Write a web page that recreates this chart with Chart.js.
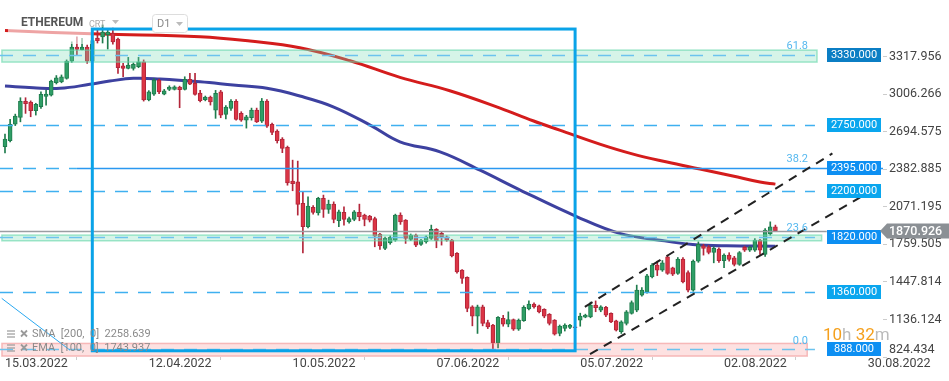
<!DOCTYPE html>
<html><head><meta charset="utf-8">
<script src="https://cdn.jsdelivr.net/npm/chart.js@4.4.0/dist/chart.umd.min.js"></script>
<style>html,body{margin:0;padding:0;background:#fff;overflow:hidden}#wrap{position:relative;width:949px;height:381px}</style>
</head><body><div id="wrap"><canvas id="c" width="949" height="381"></canvas></div>
<script>
// ---- DATA ----
const dateLabels = ['15.03.2022','12.04.2022','10.05.2022','07.06.2022','05.07.2022','02.08.2022','30.08.2022'];
const dateTickIdx = [0,28,56,84,112,140,168];
const yTickValues = [3317.956,3006.266,2694.575,2382.885,2071.195,1759.505,1447.814,1136.124,824.434];

const open  = [2569,2619,2757,2813,2946,2940,2868,2901,2987,2998,3100,3108,3137,3280,3396,3374,3396,3280,3470,3480,3500,3510,3463,3241,3220,3220,3233,3274,2957,3006,3122,3006,3045,3045,3064,3045,3128,3095,3015,2959,2982,2873,3025,2838,2888,2946,2846,2790,2810,2874,2782,2948,2755,2699,2633,2564,2284,2278,2099,1905,2066,2021,2141,2049,2093,1955,2024,1946,1966,2024,2002,1994,1974,1844,1725,1772,1794,2002,1960,1800,1836,1759,1780,1809,1883,1850,1822,1794,1684,1545,1485,1241,1164,1241,1111,1089,942,1145,1097,1136,1056,1125,1224,1263,1249,1220,1178,1130,1020,1061,1070,1075,1130,1155,1158,1255,1213,1236,1186,1124,1034,1103,1186,1213,1338,1365,1490,1587,1545,1656,1564,1518,1637,1526,1379,1620,1748,1739,1693,1720,1623,1670,1648,1593,1734,1711,1711,1794,1676,1845,1904];
const high  = [2674,2796,2840,2976,2976,2950,2930,3025,3039,3122,3160,3165,3290,3440,3482,3468,3413,3470,3540,3580,3545,3555,3470,3261,3311,3265,3311,3290,3035,3135,3130,3045,3075,3075,3072,3150,3178,3178,3037,2990,2990,3037,3037,2910,2960,2960,2860,2830,2890,2890,2970,2960,2765,2710,2645,2575,2458,2450,2195,2154,2080,2150,2168,2126,2112,2043,2071,1985,2040,2093,2010,2000,1985,1850,1820,1830,2010,2021,1965,1845,1845,1800,1830,1919,1890,1860,1830,1800,1690,1550,1490,1250,1255,1255,1130,1095,1160,1170,1199,1140,1140,1250,1291,1275,1255,1225,1185,1135,1090,1100,1095,1090,1188,1180,1280,1290,1250,1245,1190,1130,1125,1210,1290,1421,1400,1510,1600,1620,1625,1670,1570,1650,1650,1540,1630,1780,1760,1750,1740,1730,1680,1690,1660,1700,1745,1745,1808,1800,1890,1946,1919];
const low   = [2517,2610,2745,2776,2846,2818,2832,2888,2915,2990,3090,3100,3130,3270,3324,3372,3261,3260,3430,3430,3380,3420,3178,3150,3215,3205,3225,2948,2950,2995,3010,3000,3035,3040,2893,3040,3085,2998,2942,2950,2915,2805,2810,2800,2870,2790,2780,2724,2790,2770,2770,2730,2670,2600,2520,2250,2204,2002,1689,1896,2010,2002,1983,2016,1938,1905,1919,1935,1955,1955,1913,1945,1739,1717,1715,1760,1785,1925,1767,1790,1739,1750,1770,1800,1731,1753,1785,1655,1520,1435,1200,1083,1020,1083,1060,881,900,1080,1075,1045,1045,1120,1215,1230,1190,1150,1090,1006,1000,1040,1060,1040,1080,1150,1150,1200,1200,1160,1110,1040,1020,1090,1180,1200,1330,1355,1480,1500,1535,1510,1500,1510,1440,1365,1370,1610,1670,1680,1606,1610,1565,1620,1580,1585,1700,1700,1700,1676,1660,1835,1865];
const close = [2633,2755,2824,2946,2926,2868,2921,3004,3006,3114,3142,3150,3280,3396,3377,3396,3280,3450,3450,3520,3520,3440,3225,3220,3247,3253,3274,2957,3025,3122,3025,3034,3064,3067,3042,3128,3089,3004,2951,2982,2942,3012,2832,2898,2946,2796,2790,2818,2874,2776,2948,2741,2688,2619,2556,2270,2262,2091,1905,2077,2024,2141,2049,2093,1966,2029,1966,1974,2029,1988,1966,1960,1828,1747,1809,1817,2002,1946,1809,1836,1753,1794,1822,1883,1789,1822,1794,1664,1531,1476,1228,1164,1241,1103,1075,942,1153,1097,1136,1056,1130,1236,1263,1241,1199,1164,1103,1014,1081,1089,1089,1067,1164,1172,1255,1233,1241,1172,1116,1047,1116,1199,1277,1379,1379,1498,1587,1545,1606,1518,1512,1637,1448,1379,1620,1759,1726,1693,1726,1623,1670,1634,1593,1692,1711,1734,1794,1711,1878,1904,1871];

const smaIdx = [0,18.5,38,47.7,57.4,67.2,76.9,86.6,96.4,102.8,108,115.8,122.3,128.9,135.3,141.7,147,150];
const smaVal = [3533,3504,3482,3446,3391,3283,3145,3034,2890,2785,2707,2591,2508,2442,2384,2326,2276,2259];
const emaIdx = [0,5.5,10.7,16.5,20.4,25,30.2,38,44.4,51,57.4,63.9,71.1,76.9,84.7,92.5,100.3,111.4,119.7,127.5,133.9,140.5,150];
const emaVal = [3073,3059,3054,3087,3114,3137,3131,3108,3081,3054,2990,2901,2749,2610,2527,2375,2210,1988,1850,1794,1759,1747,1744];

const levelValues = [3330,2750,2395,2200,1820,1360,888];
const levelLabels = ['3330.000','2750.000','2395.000','2200.000','1820.000','1360.000','888.000'];
const fibValues = [888,1820,2395,3330];
const fibLabels = ['0.0','23.6','38.2','61.8'];
const zoneHigh = [3371,1836,937];
const zoneLow  = [3272,1789,832];
const zoneEnd  = [158.1,159,156.2];
const rectIdx = [17,111];
const rectVal = [876,3546];
const chanUpperIdx = [112.9,161.1], chanUpperVal = [1241,2514];
const chanLowerIdx = [113.9,166.5], chanLowerVal = [848,2149];
const thinLineIdx = [-0.64,12.66], thinLineVal = [1311,881];
const lastPrice = 1870.926;
const smaLegend = 'SMA  [200,  0]  2258.639';
const emaLegend = 'EMA  [100,  0]  1743.937';

// ---- STYLE ----
const GREEN='#2f9e66', GREEN_D='#1f7c4d', RED='#dc3545', RED_D='#b3263a';
const up = i => close[i] >= open[i];

const overlay = {
  id:'overlay',
  afterDatasetsDraw(chart){
    const {ctx, chartArea:a, scales:{x:xs,y:ys}} = chart;
    const X=v=>xs.getPixelForValue(v), Y=v=>ys.getPixelForValue(v);
    ctx.save();
    ctx.beginPath(); ctx.rect(a.left,a.top,a.right-a.left,a.bottom-a.top); ctx.clip();
    ctx.fillStyle='rgba(255,255,255,0.6)'; ctx.fillRect(8,0,83,44);
    const zf=['rgba(120,220,180,0.3)','rgba(120,220,180,0.3)','rgba(245,120,120,0.22)'];
    const zs=['rgba(100,215,170,0.6)','rgba(100,215,170,0.6)','rgba(240,130,130,0.5)'];
    zoneHigh.forEach((h,k)=>{
      const x0=X(-0.6),x1=X(zoneEnd[k]),y0=Y(h),y1=Y(zoneLow[k]);
      ctx.fillStyle=zf[k]; ctx.fillRect(x0,y0,x1-x0,y1-y0);
      ctx.strokeStyle=zs[k]; ctx.lineWidth=1.5; ctx.strokeRect(x0,y0,x1-x0,y1-y0);
    });
    ctx.setLineDash([13,10]); ctx.lineWidth=1.5;
    levelValues.forEach(v=>{
      const inZone = (v===3330||v===1820||v===888);
      ctx.strokeStyle = inZone ? '#6cc3ee' : '#3fb0f0';
      const xe = v===2395 ? X(14) : X(157.7);
      ctx.beginPath(); ctx.moveTo(0,Math.round(Y(v))+0.5); ctx.lineTo(xe,Math.round(Y(v))+0.5); ctx.stroke();
    });
    ctx.setLineDash([]);
    ctx.strokeStyle='#2a98f0'; ctx.lineWidth=1.5;
    ctx.beginPath(); ctx.moveTo(X(14),Math.round(Y(2395))+0.5); ctx.lineTo(a.right,Math.round(Y(2395))+0.5); ctx.stroke();
    ctx.strokeStyle='#9a9ea2'; ctx.lineWidth=1.5;
    ctx.beginPath(); ctx.moveTo(0,Math.round(Y(lastPrice))+0.5); ctx.lineTo(X(160),Math.round(Y(lastPrice))+0.5); ctx.stroke();
    ctx.strokeStyle='#2aa8f0'; ctx.lineWidth=1;
    ctx.beginPath(); ctx.moveTo(X(thinLineIdx[0]),Y(thinLineVal[0])); ctx.lineTo(X(thinLineIdx[1]),Y(thinLineVal[1])); ctx.stroke();
    ctx.strokeStyle='#0aa3e8'; ctx.lineWidth=3;
    ctx.strokeRect(X(rectIdx[0]),Y(rectVal[1]),X(rectIdx[1])-X(rectIdx[0]),Y(rectVal[0])-Y(rectVal[1]));
    ctx.strokeStyle='#222'; ctx.lineWidth=2; ctx.setLineDash([9,7]);
    ctx.beginPath(); ctx.moveTo(X(chanUpperIdx[0]),Y(chanUpperVal[0])); ctx.lineTo(X(chanUpperIdx[1]),Y(chanUpperVal[1])); ctx.stroke();
    ctx.beginPath(); ctx.moveTo(X(chanLowerIdx[0]),Y(chanLowerVal[0])); ctx.lineTo(X(chanLowerIdx[1]),Y(chanLowerVal[1])); ctx.stroke();
    ctx.setLineDash([]);
    ctx.fillStyle='#55b8ef'; ctx.font='11px Roboto'; ctx.textAlign='right'; ctx.textBaseline='middle';
    fibValues.forEach((v,k)=>ctx.fillText(fibLabels[k],808,Y(v)-8.5));
    ctx.restore();
  },
  afterDraw(chart){
    const {ctx, scales:{y:ys}} = chart;
    const Y=v=>ys.getPixelForValue(v);
    ctx.save();
    ctx.fillStyle='#444'; ctx.font='12.5px Roboto'; ctx.textAlign='left'; ctx.textBaseline='middle';
    yTickValues.forEach(v=>ctx.fillText(v.toFixed(3),889,Math.min(Y(v),350)));
    const boxCol={3330:'#0b7ec4',2750:'#0aa6ee',2395:'#0d8ff2',2200:'#0aa6ee',1820:'#0d8ff2',1360:'#0aa6ee',888:'#0d8ff2'};
    ctx.font='11px Roboto'; ctx.textAlign='center';
    levelValues.forEach((v,k)=>{
      const yc=Math.round(Y(v));
      ctx.fillStyle=boxCol[v]; ctx.fillRect(827,yc-7,54,14);
      ctx.fillStyle='#fff'; ctx.fillText(levelLabels[k],854,yc+0.5);
    });
    const yp=Math.round(Y(lastPrice));
    ctx.fillStyle='#8b9095';
    ctx.beginPath(); ctx.moveTo(880,yp); ctx.lineTo(887,yp-7.5); ctx.lineTo(949,yp-7.5); ctx.lineTo(949,yp+7.5); ctx.lineTo(887,yp+7.5); ctx.closePath(); ctx.fill();
    ctx.fillStyle='#fff'; ctx.font='500 12.5px Roboto'; ctx.textAlign='left';
    ctx.fillText(lastPrice.toFixed(3),889,yp+0.5);
    ctx.fillStyle='#555'; ctx.font='bold 12px Roboto'; ctx.textBaseline='middle';
    ctx.fillText('ETHEREUM',21,23);
    ctx.fillStyle='#aaa'; ctx.font='9px Roboto'; ctx.fillText('CRT',89,25);
    const tri=(x,y,c)=>{ctx.fillStyle=c;ctx.beginPath();ctx.moveTo(x,y);ctx.lineTo(x+7,y);ctx.lineTo(x+3.5,y+4);ctx.closePath();ctx.fill();};
    tri(112,20,'#bbb');
    ctx.strokeStyle='#ddd'; ctx.lineWidth=1;
    ctx.beginPath(); ctx.roundRect(152.5,14.5,35,18,3); ctx.fillStyle='#fff'; ctx.fill(); ctx.stroke();
    ctx.fillStyle='#888'; ctx.font='11px Roboto'; ctx.fillText('D1',157,24);
    tri(176,22,'#bbb');
    ctx.font='11px Roboto'; ctx.fillStyle='#8a8a8a';
    [[smaLegend,334],[emaLegend,348]].forEach(([t,y])=>{
      ctx.fillText(t,32,y);
      ctx.strokeStyle='#9a9a9a'; ctx.lineWidth=1.2;
      for(let k=0;k<3;k++){ctx.beginPath();ctx.moveTo(7,y-3+k*3);ctx.lineTo(15,y-3+k*3);ctx.stroke();}
      ctx.lineWidth=1.8;
      ctx.beginPath();ctx.moveTo(21,y-3.5);ctx.lineTo(27,y+2.5);ctx.moveTo(27,y-3.5);ctx.lineTo(21,y+2.5);ctx.stroke();
    });
    ctx.font='17px Roboto'; ctx.textBaseline='middle';
    let xx=823; const parts=[['10','#f5a01d'],['h','#bbb'],[' 32','#f5a01d'],['m','#bbb']];
    parts.forEach(([t,c])=>{ctx.fillStyle=c;ctx.fillText(t,xx,336);xx+=ctx.measureText(t).width;});
    ctx.restore();
  }
};

const ctx=document.getElementById('c').getContext('2d');
new Chart(ctx,{
  type:'bar',
  data:{datasets:[
    {type:'line',data:smaIdx.map((x,k)=>({x,y:smaVal[k]})),borderColor:'#d41c1c',borderWidth:3,pointRadius:0,tension:0.4,order:5},
    {type:'line',data:emaIdx.map((x,k)=>({x,y:emaVal[k]})),borderColor:'#3d41a0',borderWidth:3,pointRadius:0,tension:0.4,order:5},
    {data:open.map((o,i)=>({x:i,y:[low[i],high[i]]})),backgroundColor:c=>up(c.dataIndex)?GREEN_D:RED_D,barThickness:1,grouped:false,order:1},
    {data:open.map((o,i)=>({x:i,y:[o,close[i]]})),backgroundColor:c=>up(c.dataIndex)?GREEN:RED,borderColor:c=>up(c.dataIndex)?GREEN_D:RED_D,borderWidth:1,borderSkipped:false,barThickness:4,grouped:false,order:0}
  ]},
  options:{
    responsive:false,animation:false,
    layout:{padding:0},
    plugins:{legend:{display:false},tooltip:{enabled:false}},
    scales:{
      x:{type:'linear',min:-0.973,max:170.95,offset:false,
        grid:{display:true,drawOnChartArea:false,drawTicks:true,tickLength:3,color:'#ccc'},
        border:{display:false},
        afterBuildTicks:s=>{s.ticks=dateTickIdx.map(v=>({value:v}));},
        afterFit:s=>{s.height=24;},
        ticks:{autoSkip:false,maxRotation:0,align:'start',padding:-4,color:'#444',font:{family:'Roboto',size:12.5},
          callback:v=>dateLabels[dateTickIdx.indexOf(v)]}},
      y:{type:'linear',position:'right',min:824.434,max:3787,
        grid:{display:true,drawOnChartArea:false,drawTicks:true,tickLength:4,color:'#ccc'},
        border:{display:false},
        afterBuildTicks:s=>{s.ticks=yTickValues.map(v=>({value:v}));},
        afterFit:s=>{s.width=66;},
        ticks:{display:false}}
    }
  },
  plugins:[overlay]
});
</script></body></html>
